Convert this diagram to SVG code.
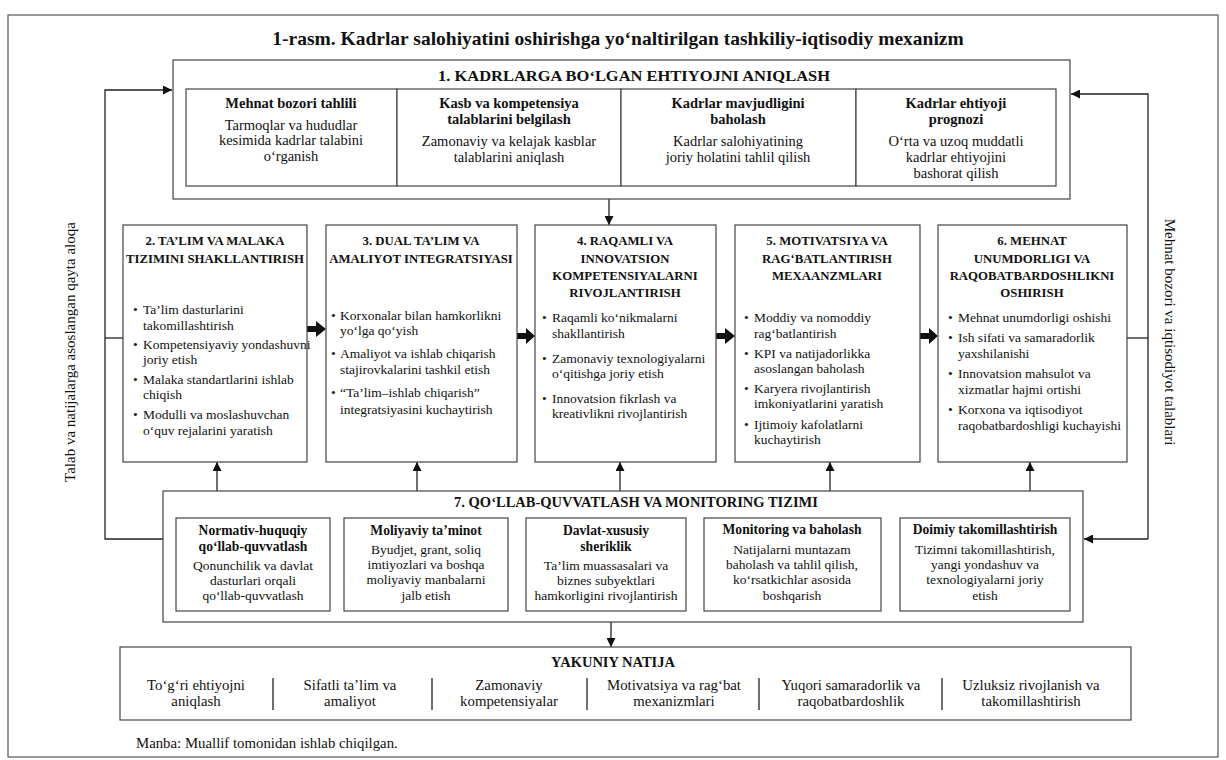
<svg xmlns="http://www.w3.org/2000/svg" width="1226" height="760" viewBox="0 0 1226 760">
<style>
text{font-family:"Liberation Serif","Times New Roman",serif;fill:#111}
.t{font-size:19.5px;font-weight:bold}
.h{font-size:14.5px;font-weight:bold}
.hb{font-size:12.8px;font-weight:bold}
.sb{font-size:13.6px;font-weight:bold}
.sb1{font-size:14.5px;font-weight:bold}
.b{font-size:13.5px}
.b1{font-size:14.5px}
.y{font-size:14.8px}
.v{font-size:15px}
.m{text-anchor:middle}
.box{fill:#fff;stroke:#444;stroke-width:1.2}
.ln{fill:none;stroke:#222;stroke-width:1.3}
.blk{fill:#111}
</style>
<defs>
<marker id="ah" viewBox="0 0 10 10" refX="10" refY="5" markerWidth="9" markerHeight="9" markerUnits="userSpaceOnUse" orient="auto">
<path d="M0,0 L10,5 L0,10 z" fill="#111"/>
</marker>
</defs>
<rect x="0" y="0" width="1226" height="760" fill="#fff"/>
<rect x="8" y="15" width="1210" height="742" fill="none" stroke="#555" stroke-width="1.2"/>
<text class="t m" x="618" y="45">1-rasm. Kadrlar salohiyatini oshirishga yo‘naltirilgan tashkiliy-iqtisodiy mexanizm</text>

<g id="connectors">
<path class="ln" d="M163,539 H105 V90 H172" marker-end="url(#ah)"/>
<path class="ln" d="M123,338 H105"/>
<path class="ln" d="M1148,539 V94 H1071" marker-end="url(#ah)"/>
<path class="ln" d="M1148,539 H1084" marker-end="url(#ah)"/>
<path class="ln" d="M1127,338 H1148"/>
<path class="ln" d="M609,199 V225" marker-end="url(#ah)"/>
<path class="ln" d="M217,491 V462" marker-end="url(#ah)"/>
<path class="ln" d="M417,491 V462" marker-end="url(#ah)"/>
<path class="ln" d="M620,491 V462" marker-end="url(#ah)"/>
<path class="ln" d="M830,491 V462" marker-end="url(#ah)"/>
<path class="ln" d="M1030,491 V462" marker-end="url(#ah)"/>
<path class="ln" d="M611,622 V647" marker-end="url(#ah)"/>
<polygon class="blk" points="307,326 316,326 316,321 326,329 316,337 316,332 307,332"/>
<polygon class="blk" points="517,333 526,333 526,328 535,336 526,344 526,339 517,339"/>
<polygon class="blk" points="716,333 725,333 725,328 735,336 725,344 725,339 716,339"/>
<polygon class="blk" points="920,333 929,333 929,328 938,336 929,344 929,339 920,339"/>
</g>

<text class="v m" transform="translate(75,352) rotate(-90)">Talab va natijalarga asoslangan qayta aloqa</text>
<text class="v m" transform="translate(1165,332) rotate(90)">Mehnat bozori va iqtisodiyot talablari</text>

<g id="node1">
<rect class="box" x="173" y="60" width="897" height="139"/>
<text class="h m" x="634" y="81" textLength="392" lengthAdjust="spacingAndGlyphs">1. KADRLARGA BO‘LGAN EHTIYOJNI ANIQLASH</text>
<rect class="box" x="186" y="89" width="211" height="97"/>
<rect class="box" x="397" y="89" width="224" height="97"/>
<rect class="box" x="621" y="89" width="235" height="97"/>
<rect class="box" x="856" y="89" width="200" height="97"/>
<text class="sb1 m" x="291" y="108">Mehnat bozori tahlili</text>
<text class="b1 m" x="291" y="130">Tarmoqlar va hududlar</text>
<text class="b1 m" x="291" y="145">kesimida kadrlar talabini</text>
<text class="b1 m" x="291" y="161">o‘rganish</text>
<text class="sb1 m" x="509" y="108">Kasb va kompetensiya</text>
<text class="sb1 m" x="509" y="124">talablarini belgilash</text>
<text class="b1 m" x="509" y="146">Zamonaviy va kelajak kasblar</text>
<text class="b1 m" x="509" y="162">talablarini aniqlash</text>
<text class="sb1 m" x="738" y="108">Kadrlar mavjudligini</text>
<text class="sb1 m" x="738" y="124">baholash</text>
<text class="b1 m" x="738" y="146">Kadrlar salohiyatining</text>
<text class="b1 m" x="738" y="162">joriy holatini tahlil qilish</text>
<text class="sb1 m" x="956" y="108">Kadrlar ehtiyoji</text>
<text class="sb1 m" x="956" y="124">prognozi</text>
<text class="b1 m" x="956" y="146">O‘rta va uzoq muddatli</text>
<text class="b1 m" x="956" y="162">kadrlar ehtiyojini</text>
<text class="b1 m" x="956" y="178">bashorat qilish</text>
</g>

<g id="node2">
<rect class="box" x="123" y="225" width="184" height="237"/>
<text class="hb m" x="215" y="245">2.  TA’LIM VA MALAKA</text>
<text class="hb m" x="215" y="263">TIZIMINI SHAKLLANTIRISH</text>
<text class="b" x="133" y="314">•</text><text class="b" x="143" y="314">Ta’lim dasturlarini</text>
<text class="b" x="143" y="330">takomillashtirish</text>
<text class="b" x="133" y="349">•</text><text class="b" x="143" y="349">Kompetensiyaviy yondashuvni</text>
<text class="b" x="143" y="364">joriy etish</text>
<text class="b" x="133" y="384">•</text><text class="b" x="143" y="384">Malaka standartlarini ishlab</text>
<text class="b" x="143" y="399">chiqish</text>
<text class="b" x="133" y="419">•</text><text class="b" x="143" y="419">Modulli va moslashuvchan</text>
<text class="b" x="143" y="435">o‘quv rejalarini yaratish</text>
</g>

<g id="node3">
<rect class="box" x="326" y="225" width="191" height="237"/>
<text class="hb m" x="421" y="245">3. DUAL TA’LIM VA</text>
<text class="hb m" x="421" y="263">AMALIYOT INTEGRATSIYASI</text>
<text class="b" x="331" y="320">•</text><text class="b" x="340" y="320">Korxonalar bilan hamkorlikni</text>
<text class="b" x="340" y="335">yo‘lga qo‘yish</text>
<text class="b" x="331" y="358">•</text><text class="b" x="340" y="358">Amaliyot va ishlab chiqarish</text>
<text class="b" x="340" y="374">stajirovkalarini tashkil etish</text>
<text class="b" x="331" y="397">•</text><text class="b" x="340" y="397">“Ta’lim–ishlab chiqarish”</text>
<text class="b" x="340" y="414">integratsiyasini kuchaytirish</text>
</g>

<g id="node4">
<rect class="box" x="535" y="225" width="181" height="237"/>
<text class="hb m" x="625" y="245">4. RAQAMLI VA</text>
<text class="hb m" x="625" y="263">INNOVATSION</text>
<text class="hb m" x="625" y="280">KOMPETENSIYALARNI</text>
<text class="hb m" x="625" y="297">RIVOJLANTIRISH</text>
<text class="b" x="542" y="322">•</text><text class="b" x="552" y="322">Raqamli ko‘nikmalarni</text>
<text class="b" x="552" y="338">shakllantirish</text>
<text class="b" x="542" y="363">•</text><text class="b" x="552" y="363">Zamonaviy texnologiyalarni</text>
<text class="b" x="552" y="378">o‘qitishga joriy etish</text>
<text class="b" x="542" y="403">•</text><text class="b" x="552" y="403">Innovatsion fikrlash va</text>
<text class="b" x="552" y="418">kreativlikni rivojlantirish</text>
</g>

<g id="node5">
<rect class="box" x="735" y="225" width="185" height="237"/>
<text class="hb m" x="827" y="245">5. MOTIVATSIYA VA</text>
<text class="hb m" x="827" y="263">RAG‘BATLANTIRISH</text>
<text class="hb m" x="827" y="280">MEXAANZMLARI</text>
<text class="b" x="744" y="322">•</text><text class="b" x="754" y="322">Moddiy va nomoddiy</text>
<text class="b" x="754" y="338">rag‘batlantirish</text>
<text class="b" x="744" y="358">•</text><text class="b" x="754" y="358">KPI va natijadorlikka</text>
<text class="b" x="754" y="373">asoslangan baholash</text>
<text class="b" x="744" y="393">•</text><text class="b" x="754" y="393">Karyera rivojlantirish</text>
<text class="b" x="754" y="408">imkoniyatlarini yaratish</text>
<text class="b" x="744" y="429">•</text><text class="b" x="754" y="429">Ijtimoiy kafolatlarni</text>
<text class="b" x="754" y="444">kuchaytirish</text>
</g>

<g id="node6">
<rect class="box" x="938" y="225" width="189" height="237"/>
<text class="hb m" x="1032" y="245">6. MEHNAT</text>
<text class="hb m" x="1032" y="263">UNUMDORLIGI VA</text>
<text class="hb m" x="1032" y="280">RAQOBATBARDOSHLIKNI</text>
<text class="hb m" x="1032" y="297">OSHIRISH</text>
<text class="b" x="948" y="322">•</text><text class="b" x="958" y="322">Mehnat unumdorligi oshishi</text>
<text class="b" x="948" y="342">•</text><text class="b" x="958" y="342">Ish sifati va samaradorlik</text>
<text class="b" x="958" y="358">yaxshilanishi</text>
<text class="b" x="948" y="378">•</text><text class="b" x="958" y="378">Innovatsion mahsulot va</text>
<text class="b" x="958" y="394">xizmatlar hajmi ortishi</text>
<text class="b" x="948" y="414">•</text><text class="b" x="958" y="414">Korxona va iqtisodiyot</text>
<text class="b" x="958" y="430">raqobatbardoshligi kuchayishi</text>
</g>

<g id="node7">
<rect class="box" x="163" y="491" width="920" height="131"/>
<text class="h m" x="636" y="507">7. QO‘LLAB-QUVVATLASH VA MONITORING TIZIMI</text>
<rect class="box" x="176" y="518" width="154" height="93"/>
<rect class="box" x="344" y="518" width="164" height="93"/>
<rect class="box" x="526" y="518" width="160" height="93"/>
<rect class="box" x="704" y="518" width="177" height="93"/>
<rect class="box" x="900" y="518" width="170" height="93"/>
<text class="sb m" x="253" y="535">Normativ-huquqiy</text>
<text class="sb m" x="253" y="551">qo‘llab-quvvatlash</text>
<text class="b m" x="253" y="570">Qonunchilik va davlat</text>
<text class="b m" x="253" y="585">dasturlari orqali</text>
<text class="b m" x="253" y="600">qo‘llab-quvvatlash</text>
<text class="sb m" x="426" y="535">Moliyaviy ta’minot</text>
<text class="b m" x="426" y="554">Byudjet, grant, soliq</text>
<text class="b m" x="426" y="569">imtiyozlari va boshqa</text>
<text class="b m" x="426" y="584">moliyaviy manbalarni</text>
<text class="b m" x="426" y="600">jalb etish</text>
<text class="sb m" x="606" y="535">Davlat-xususiy</text>
<text class="sb m" x="606" y="551">sheriklik</text>
<text class="b m" x="606" y="570">Ta’lim muassasalari va</text>
<text class="b m" x="606" y="585">biznes subyektlari</text>
<text class="b m" x="606" y="600">hamkorligini rivojlantirish</text>
<text class="sb m" x="792" y="534">Monitoring va baholash</text>
<text class="b m" x="792" y="554">Natijalarni muntazam</text>
<text class="b m" x="792" y="569">baholash va tahlil qilish,</text>
<text class="b m" x="792" y="584">ko‘rsatkichlar asosida</text>
<text class="b m" x="792" y="600">boshqarish</text>
<text class="sb m" x="985" y="534">Doimiy takomillashtirish</text>
<text class="b m" x="985" y="554">Tizimni takomillashtirish,</text>
<text class="b m" x="985" y="569">yangi yondashuv va</text>
<text class="b m" x="985" y="584">texnologiyalarni joriy</text>
<text class="b m" x="985" y="600">etish</text>
</g>

<g id="node8">
<rect class="box" x="120" y="647" width="1011" height="73"/>
<text class="h m" x="613" y="667">YAKUNIY NATIJA</text>
<g class="ln">
<line x1="273" y1="678" x2="273" y2="710"/>
<line x1="432" y1="678" x2="432" y2="710"/>
<line x1="587" y1="678" x2="587" y2="710"/>
<line x1="759" y1="678" x2="759" y2="710"/>
<line x1="942" y1="678" x2="942" y2="710"/>
</g>
<text class="y m" x="196" y="690">To‘g‘ri ehtiyojni</text>
<text class="y m" x="196" y="706">aniqlash</text>
<text class="y m" x="350" y="690">Sifatli ta’lim va</text>
<text class="y m" x="350" y="706">amaliyot</text>
<text class="y m" x="509" y="690">Zamonaviy</text>
<text class="y m" x="509" y="706">kompetensiyalar</text>
<text class="y m" x="674" y="690">Motivatsiya va rag‘bat</text>
<text class="y m" x="674" y="706">mexanizmlari</text>
<text class="y m" x="851" y="690">Yuqori  samaradorlik va</text>
<text class="y m" x="851" y="706">raqobatbardoshlik</text>
<text class="y m" x="1031" y="690">Uzluksiz rivojlanish va</text>
<text class="y m" x="1031" y="706">takomillashtirish</text>
</g>

<text class="y" x="136" y="748">Manba: Muallif tomonidan ishlab chiqilgan.</text>
</svg>
